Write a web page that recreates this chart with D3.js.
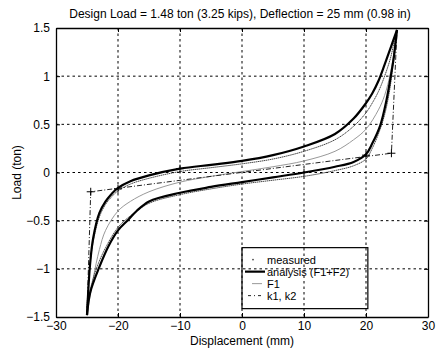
<!DOCTYPE html>
<html>
<head>
<meta charset="utf-8">
<script src="https://cdn.jsdelivr.net/npm/d3@7"></script>
<style>
  body { margin: 0; background: #fff; }
  svg { display: block; font-family: "Liberation Sans", Arial, sans-serif; }
</style>
</head>
<body>
<svg width="436" height="354"></svg>
<script>
// tick values
var xTicks = [-30, -20, -10, 0, 10, 20, 30]
var yTicks = [-1.5, -1, -0.5, 0, 0.5, 1, 1.5]

// analysis (F1+F2) loop, [displacement mm, load ton]
var analysisLoading = [[-25,-1.48],[-24.5,-0.95],[-24,-0.68],[-23,-0.42],[-22,-0.3],[-21,-0.22],[-20,-0.16],
    [-18,-0.09],[-15,-0.03],[-10,0.04],[-5,0.08],[0,0.12],[5,0.18],[10,0.27],[15,0.4],[18,0.56],[20,0.72],
    [21,0.82],[22,0.95],[23,1.12],[24,1.3],[25,1.48]]
var analysisUnloading = [[25,1.48],[24.5,1.2],[24,1.0],[23.3,0.75],[22.3,0.49],[21,0.3],[20,0.19],[18,0.11],
    [15,0.06],[10,0.0],[5,-0.05],[0,-0.1],[-5,-0.15],[-10,-0.21],[-15,-0.3],[-17,-0.4],[-18.5,-0.5],
    [-20,-0.6],[-21.5,-0.76],[-23,-0.98],[-24.5,-1.25],[-25,-1.48]]

// measured loop
var measuredLoading = [[-25,-1.4],[-24.6,-1.0],[-24,-0.72],[-23,-0.46],[-22,-0.33],[-21,-0.25],[-20,-0.19],
    [-18,-0.12],[-15,-0.06],[-10,0.01],[-5,0.05],[0,0.09],[5,0.14],[10,0.22],[15,0.34],[18,0.48],[20,0.62],
    [21,0.72],[22,0.84],[23,1.0],[24,1.2],[24.8,1.45]]
var measuredUnloading = [[24.8,1.45],[24.3,1.1],[23.8,0.85],[23,0.6],[22,0.4],[21,0.25],[20,0.14],[18,0.07],
    [15,0.02],[10,-0.04],[5,-0.08],[0,-0.12],[-5,-0.17],[-10,-0.23],[-15,-0.32],[-18,-0.45],[-20,-0.57],
    [-22,-0.78],[-23.5,-1.0],[-24.6,-1.25],[-25,-1.4]]

// F1 curve
var f1Curve = [[-25,-1.48],[-24,-1.1],[-23,-0.8],[-22,-0.6],[-20,-0.4],[-18,-0.3],[-15,-0.2],[-10,-0.1],
    [-5,-0.04],[0,0.01],[5,0.06],[10,0.12],[15,0.22],[18,0.34],[20,0.45],[22,0.65],[23,0.8],[24,1.05],[25,1.48]]

// k1, k2 bilinear
var k12Line = [[-25,-1.48],[-24.4,-0.2],[24.1,0.2],[25,1.48]]
var k12Marks = [[-24.4,-0.2],[24.1,0.2]]

// "+" markers on the loop
var loopMarks = [[-20,-0.17],[20,0.18],[10,0.0],[-10,0.04]]

var legendLabels = ["measured", "analysis (F1+F2)", "F1", "k1, k2"]

var margins = {top:28, right:8, bottom:37, left:56}
var width = 436 - margins.left - margins.right
var height = 354 - margins.top - margins.bottom

var svg = d3.select("svg")

var xScale = d3.scaleLinear().domain([-30,30]).range([0,width])
var yScale = d3.scaleLinear().domain([-1.5,1.5]).range([height,0])

var plot = svg.append("g")
    .attr("transform","translate("+margins.left+","+margins.top+")")

// grid
plot.append("g").selectAll("line")
    .data(xTicks.slice(1,-1))
    .enter().append("line")
    .attr("x1",function(d){return xScale(d)}).attr("x2",function(d){return xScale(d)})
    .attr("y1",0).attr("y2",height)
    .attr("stroke","#000").attr("stroke-width",1).attr("stroke-dasharray","2.5,3")

plot.append("g").selectAll("line")
    .data(yTicks.slice(1,-1))
    .enter().append("line")
    .attr("y1",function(d){return yScale(d)}).attr("y2",function(d){return yScale(d)})
    .attr("x1",0).attr("x2",width)
    .attr("stroke","#000").attr("stroke-width",1).attr("stroke-dasharray","2.5,3")

// axes, ticks inside like matlab
var xAxis = d3.axisBottom(xScale).tickValues(xTicks).tickSizeInner(-4).tickSizeOuter(0).tickPadding(4)
var yAxis = d3.axisLeft(yScale).tickValues(yTicks).tickSizeInner(-4).tickSizeOuter(0).tickPadding(6)
    .tickFormat(function(d){return d3.format("")(d)})

var gx = plot.append("g").attr("transform","translate(0,"+height+")").call(xAxis)
var gy = plot.append("g").call(yAxis)
plot.append("g").call(d3.axisTop(xScale).tickValues(xTicks).tickSizeInner(-4).tickSizeOuter(0).tickFormat(""))
plot.append("g").attr("transform","translate("+width+",0)")
    .call(d3.axisRight(yScale).tickValues(yTicks).tickSizeInner(-4).tickSizeOuter(0).tickFormat(""))

plot.selectAll(".domain").attr("stroke","#000").attr("stroke-width",1.3)
plot.selectAll(".tick line").attr("stroke","#000")
plot.selectAll(".tick text").attr("font-size",12).attr("font-family","Liberation Sans, Arial, sans-serif").attr("fill","#000")

var lineGenerator = d3.line()
    .x(function(d){return xScale(d[0])})
    .y(function(d){return yScale(d[1])})
    .curve(d3.curveCatmullRom.alpha(0.5))

var straight = d3.line()
    .x(function(d){return xScale(d[0])})
    .y(function(d){return yScale(d[1])})

// F1
plot.append("path").attr("d",lineGenerator(f1Curve))
    .attr("fill","none").attr("stroke","#999").attr("stroke-width",1)

// k1, k2
plot.append("path").attr("d",straight(k12Line))
    .attr("fill","none").attr("stroke","#222").attr("stroke-width",1).attr("stroke-dasharray","5,2,1,2")

// measured
;[measuredLoading, measuredUnloading].forEach(function(branch){
    plot.append("path").attr("d",lineGenerator(branch))
        .attr("fill","none").attr("stroke","#333").attr("stroke-width",0.9).attr("stroke-dasharray","1.5,0.5")
})

// analysis
;[analysisLoading, analysisUnloading].forEach(function(branch){
    plot.append("path").attr("d",lineGenerator(branch))
        .attr("fill","none").attr("stroke","#000").attr("stroke-width",2.2)
})

// + markers
plot.append("g").selectAll("path")
    .data(k12Marks.concat(loopMarks))
    .enter().append("path")
    .attr("d",function(d){
        var x = xScale(d[0]), y = yScale(d[1])
        return "M"+(x-4)+","+y+"H"+(x+4)+"M"+x+","+(y-4)+"V"+(y+4)
    })
    .attr("stroke","#000").attr("stroke-width",1)

// legend
var legend = plot.append("g").attr("transform","translate("+(xScale(0))+","+(yScale(-0.78))+")")
legend.append("rect").attr("width",xScale(20.3)-xScale(0)).attr("height",61)
    .attr("fill","none").attr("stroke","#000").attr("stroke-width",1.2)

var rowY = [12, 24, 36, 48]
legend.selectAll("text").data(legendLabels).enter().append("text")
    .attr("x",25).attr("y",function(d,i){return rowY[i]+4})
    .attr("font-size",11).text(function(d){return d})

legend.append("circle").attr("cx",11).attr("cy",rowY[0]).attr("r",0.8).attr("fill","#333")
legend.append("line").attr("x1",3).attr("x2",23).attr("y1",rowY[1]).attr("y2",rowY[1])
    .attr("stroke","#000").attr("stroke-width",2.2)
legend.append("line").attr("x1",10).attr("x2",20).attr("y1",rowY[2]).attr("y2",rowY[2])
    .attr("stroke","#999").attr("stroke-width",1)
legend.append("line").attr("x1",6).attr("x2",22).attr("y1",rowY[3]).attr("y2",rowY[3])
    .attr("stroke","#222").attr("stroke-width",1).attr("stroke-dasharray","3,3,1,3")

// titles
svg.append("text").attr("x",240).attr("y",18).attr("text-anchor","middle").attr("font-size",12)
    .text("Design Load = 1.48 ton (3.25 kips), Deflection = 25 mm (0.98 in)")
svg.append("text").attr("x",margins.left+xScale(0)).attr("y",345).attr("text-anchor","middle").attr("font-size",12)
    .text("Displacement (mm)")
svg.append("text").attr("transform","translate(21,"+(margins.top+yScale(0))+") rotate(-90)")
    .attr("text-anchor","middle").attr("font-size",12).text("Load (ton)")
</script>
</body>
</html>
